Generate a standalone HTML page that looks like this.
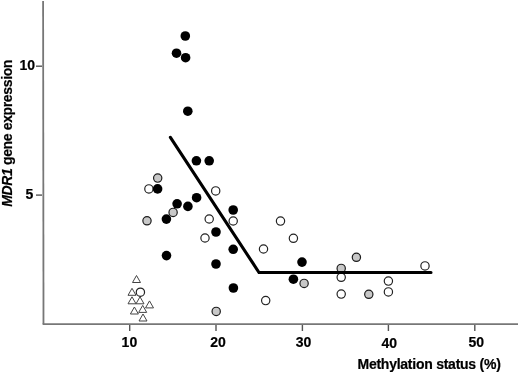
<!DOCTYPE html>
<html><head><meta charset="utf-8"><style>
html,body{margin:0;padding:0;background:#fff;}
svg{display:block;}
text{font-family:"Liberation Sans",Arial,Helvetica,sans-serif;font-weight:bold;font-size:14px;fill:#000;stroke:#000;stroke-width:0.2px;}
.lb{letter-spacing:-0.25px;}
.ly{letter-spacing:-0.36px;}
.b{fill:#000;}
.g{fill:#c8c8c8;stroke:#1c1c1c;stroke-width:1.2;}
.o{fill:#fff;stroke:#222;stroke-width:1.2;}
.t{fill:#fff;stroke:#444;stroke-width:1;stroke-linejoin:miter;}
</style></head><body>
<svg width="520" height="374" viewBox="0 0 520 374">
<rect x="0" y="0" width="520" height="374" fill="#fff"/>
<!-- axes -->
<line x1="43.1" y1="1" x2="43.5" y2="324" stroke="#777" stroke-width="1.8"/>
<line x1="42.6" y1="324.1" x2="518" y2="324.1" stroke="#777" stroke-width="1.8"/>
<!-- y ticks -->
<rect x="36" y="65.5" width="6" height="1.4" fill="#555"/>
<rect x="36" y="194.4" width="6" height="1.4" fill="#555"/>
<!-- x ticks -->
<rect x="129" y="325" width="1.4" height="6" fill="#555"/>
<rect x="215.3" y="325" width="1.4" height="6" fill="#555"/>
<rect x="301.7" y="325" width="1.4" height="6" fill="#555"/>
<rect x="387.7" y="325" width="1.4" height="6" fill="#555"/>
<rect x="474.1" y="325" width="1.4" height="6" fill="#555"/>
<!-- tick labels -->
<g class="tk">
<text x="129.4" y="347.4" text-anchor="middle">10</text>
<text x="218" y="347.4" text-anchor="middle">20</text>
<text x="303.5" y="347.4" text-anchor="middle">30</text>
<text x="389.3" y="348.2" text-anchor="middle">40</text>
<text x="476.3" y="347.3" text-anchor="middle">50</text>
<text x="35" y="70.4" text-anchor="end">10</text>
<text x="33.2" y="199" text-anchor="end">5</text>
</g>
<text class="lb" x="357.5" y="368.5">Methylation status (%)</text>
<text class="lb ly" transform="translate(11.5,206.8) rotate(-90)"><tspan font-style="italic">MDR1</tspan> gene expression</text>
<path class="t" d="M136.5,275.5 L140.50,282.50 L132.50,282.50 Z"/>
<path class="t" d="M132,288.3 L136.00,295.30 L128.00,295.30 Z"/>
<path class="t" d="M132,296.8 L136.00,303.80 L128.00,303.80 Z"/>
<path class="t" d="M140,296.8 L144.00,303.80 L136.00,303.80 Z"/>
<path class="t" d="M149.5,300.9 L153.50,307.90 L145.50,307.90 Z"/>
<path class="t" d="M142.7,305.4 L146.70,312.40 L138.70,312.40 Z"/>
<path class="t" d="M134.4,307 L138.40,314.00 L130.40,314.00 Z"/>
<path class="t" d="M143,314 L147.00,321.00 L139.00,321.00 Z"/>
<circle class="o" cx="148.9" cy="188.9" r="4.15"/>
<circle class="o" cx="215.7" cy="190.9" r="4.15"/>
<circle class="o" cx="209.2" cy="219" r="4.15"/>
<circle class="o" cx="233.2" cy="221" r="4.15"/>
<circle class="o" cx="205" cy="238" r="4.15"/>
<circle class="o" cx="280.5" cy="221.1" r="4.15"/>
<circle class="o" cx="293.4" cy="238.3" r="4.15"/>
<circle class="o" cx="263.5" cy="249" r="4.15"/>
<circle class="o" cx="265.7" cy="300.6" r="4.15"/>
<circle class="o" cx="341.2" cy="277.3" r="4.15"/>
<circle class="o" cx="341.2" cy="294.1" r="4.15"/>
<circle class="o" cx="388.4" cy="281.1" r="4.15"/>
<circle class="o" cx="388.4" cy="291.9" r="4.15"/>
<circle class="o" cx="425" cy="265.9" r="4.15"/>
<circle class="o" cx="140.4" cy="292.2" r="4.15"/>
<circle class="g" cx="157.7" cy="178.1" r="4.15"/>
<circle class="g" cx="173.1" cy="212.4" r="4.15"/>
<circle class="g" cx="147" cy="220.8" r="4.15"/>
<circle class="g" cx="216.2" cy="311.4" r="4.15"/>
<circle class="g" cx="304.1" cy="283.4" r="4.15"/>
<circle class="g" cx="341.2" cy="268.4" r="4.15"/>
<circle class="g" cx="356.4" cy="257.3" r="4.15"/>
<circle class="g" cx="368.8" cy="294.3" r="4.15"/>
<circle class="b" cx="185.3" cy="36" r="4.8"/>
<circle class="b" cx="176.5" cy="53.2" r="4.8"/>
<circle class="b" cx="185.6" cy="57.7" r="4.8"/>
<circle class="b" cx="187.8" cy="111.2" r="4.8"/>
<circle class="b" cx="196.4" cy="160.8" r="4.8"/>
<circle class="b" cx="209.2" cy="160.8" r="4.8"/>
<circle class="b" cx="157.6" cy="188.9" r="4.8"/>
<circle class="b" cx="177.1" cy="203.8" r="4.8"/>
<circle class="b" cx="187.9" cy="206.4" r="4.8"/>
<circle class="b" cx="196.6" cy="197.7" r="4.8"/>
<circle class="b" cx="166.4" cy="219.1" r="4.8"/>
<circle class="b" cx="233.2" cy="210" r="4.8"/>
<circle class="b" cx="216" cy="232" r="4.8"/>
<circle class="b" cx="233.2" cy="249.3" r="4.8"/>
<circle class="b" cx="166.5" cy="255.6" r="4.8"/>
<circle class="b" cx="216" cy="264" r="4.8"/>
<circle class="b" cx="233.4" cy="288" r="4.8"/>
<circle class="b" cx="302" cy="262.1" r="4.8"/>
<circle class="b" cx="293.4" cy="279.2" r="4.8"/>
<!-- fit line -->
<polyline points="170.4,137.4 259,272.5 431,272.5" fill="none" stroke="#000" stroke-width="3.1" stroke-linejoin="miter" stroke-linecap="round"/>
</svg>
</body></html>
